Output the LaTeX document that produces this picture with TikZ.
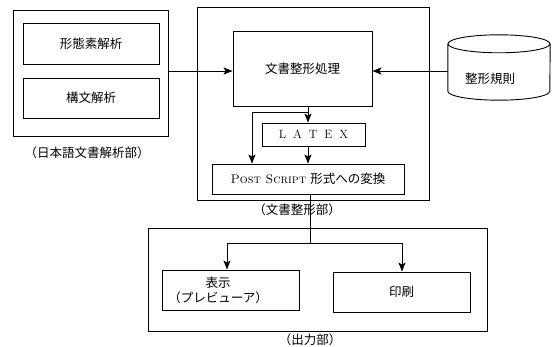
\documentclass[tikz,border=0pt]{standalone}
\usepackage{fontspec}
\newfontfamily\jp{Noto Sans CJK JP}
\usetikzlibrary{arrows.meta}
\tikzset{
  box/.style={draw, line width=0.9pt, inner sep=0pt},
  lbl/.style={font=\jp\fontsize{12.5}{15}\selectfont, inner sep=0pt},
  conn/.style={line width=0.9pt},
  arr/.style={line width=0.9pt, -{Stealth[length=9pt,width=7pt,inset=2pt]}},
}
\begin{document}
\begin{tikzpicture}[x=1pt,y=-1pt]
\useasboundingbox (0,0) rectangle (557,347);
% outer groups
\node[box, minimum width=155pt, minimum height=126pt] (G1) at (90.5,73) {};
\node[box, minimum width=232pt, minimum height=193pt] (G2) at (313,103.5) {};
\node[box, minimum width=339pt, minimum height=103pt] (G3) at (317.5,279.5) {};
% left group
\node[box, lbl, minimum width=136pt, minimum height=41pt] (A1) at (91,43.5) {形態素解析};
\node[box, lbl, minimum width=136pt, minimum height=40pt] (A2) at (91,98) {構文解析};
\node[lbl] (T1) at (87,153) {（日本語文書解析部）};
% middle group
\node[box, lbl, minimum width=139pt, minimum height=75pt] (P) at (302.5,68.5) {文書整形処理};
\node[box, minimum width=103pt, minimum height=23pt, font=\fontsize{12}{14}\selectfont] (L) at (313.5,134.5) {L\hspace{7pt}A\hspace{7pt}T\hspace{7pt}E\hspace{7pt}X};
\node[box, minimum width=192pt, minimum height=30pt] (PS) at (308,179) {\fontsize{12.5}{15}\selectfont\textsc{Post Script} {\jp 形式への変換}};
\node[lbl] (T2) at (297,210) {（文書整形部）};
% database (cylinder)
\node[minimum width=102pt, minimum height=65pt, inner sep=0pt] (DB) at (499,67.5) {};
\draw[line width=0.9pt] ([yshift=-9pt]DB.north west) -- ([yshift=9pt]DB.south west)
  arc[start angle=180, end angle=360, x radius=51pt, y radius=9pt]
  -- ([yshift=-9pt]DB.north east);
\draw[line width=0.9pt] ([yshift=-9pt]DB.north) ellipse[x radius=51pt, y radius=9pt];
\node[lbl] (DBt) at (490,79) {整形規則};
% output group
\node[box, minimum width=137pt, minimum height=40pt] (D) at (230.5,290) {};
\node[lbl, align=center] (Dt) at (218,290) {表示\\（プレビューア）};
\node[box, lbl, minimum width=137pt, minimum height=40pt] (R) at (401.5,292) {印刷};
\node[lbl] (T3) at (310,340) {（出力部）};
% coordinates
\coordinate (xa) at (308,0);
\coordinate (xb) at (252,0);
\coordinate (xc) at (310,0);
\coordinate (xd) at (227,0);
\coordinate (xe) at (402,0);
\coordinate (ya) at (0,71);
\coordinate (yb) at (0,112);
\coordinate (yc) at (0,243);
% connectors
\draw[arr] (G1.east |- ya) -- (P.west |- ya);
\draw[arr] (DB.west |- ya) -- (P.east |- ya);
\draw[arr] (P.south -| xa) -- (L.north -| xa);
\draw[arr] (xa |- yb) -- (xb |- yb) -- (PS.north -| xb);
\draw[arr] (L.south -| xa) -- (PS.north -| xa);
\draw[conn] (PS.south -| xc) -- (xc |- yc);
\draw[arr] (xc |- yc) -- (xd |- yc) -- (D.north -| xd);
\draw[arr] (xc |- yc) -- (xe |- yc) -- (R.north -| xe);
\end{tikzpicture}
\end{document}
